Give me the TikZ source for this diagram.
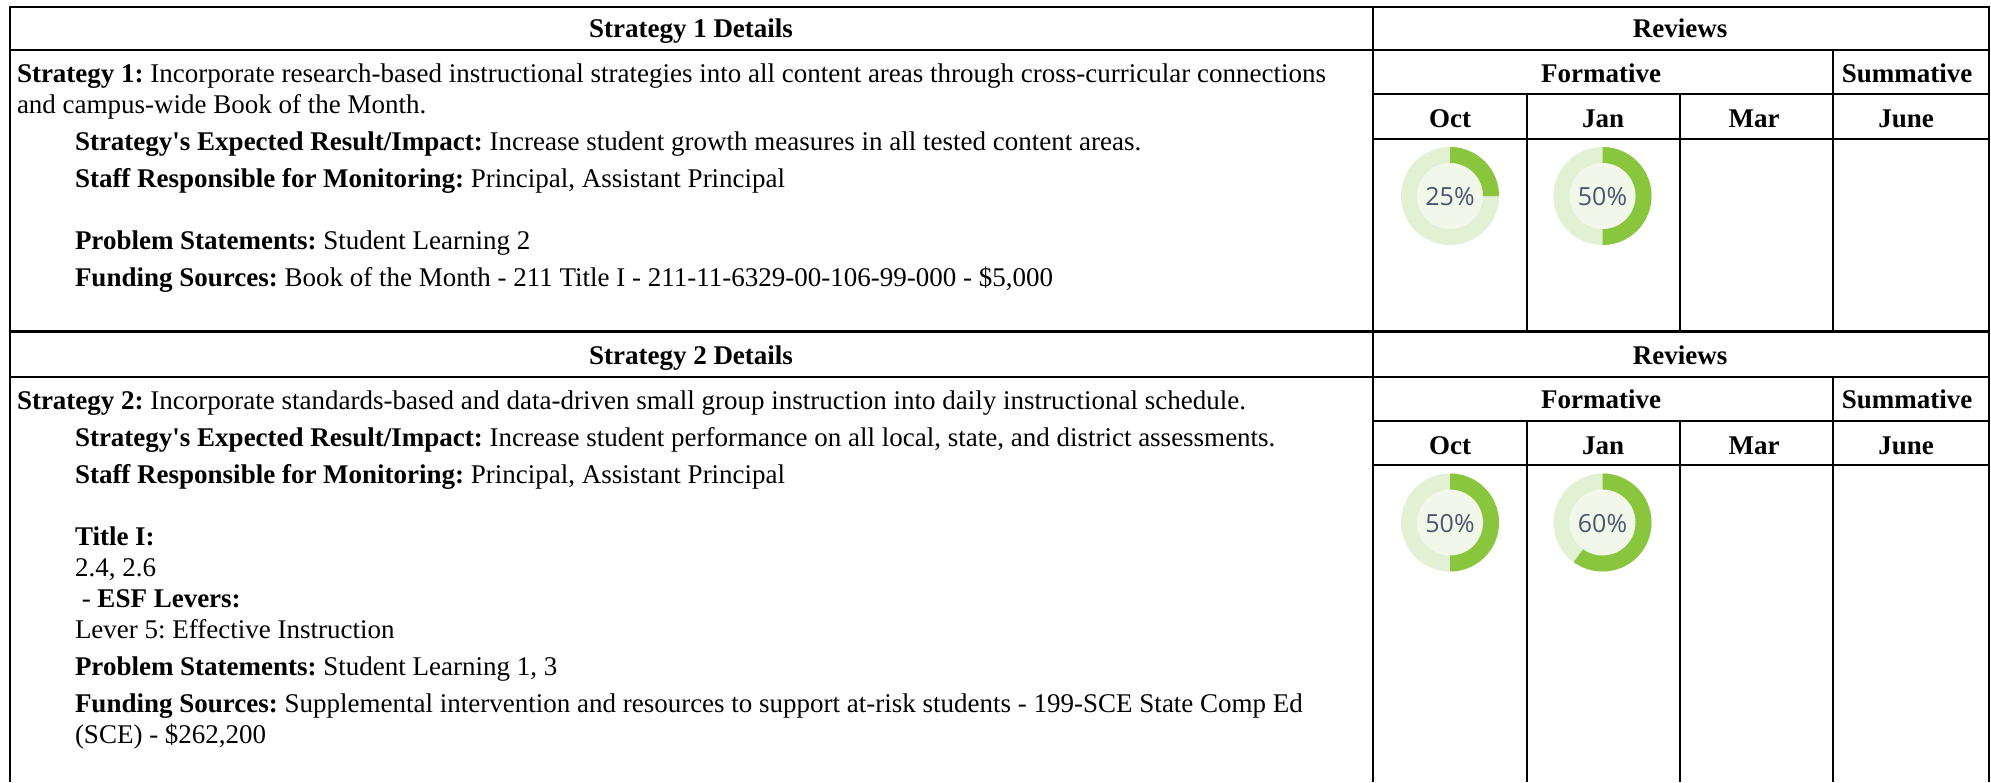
\documentclass[tikz,border=0pt]{standalone}
\usepackage{fontspec}
\setmainfont{Liberation Serif}[Ligatures=TeXOff]
\newfontfamily\gaugefont{Open Sans}
\definecolor{gaugedark}{HTML}{8AC53E}
\definecolor{gaugelight}{HTML}{E2F0D4}
\definecolor{gaugeinner}{HTML}{F1F8EA}
\definecolor{gaugetext}{HTML}{4A5570}
\tikzset{
  x=1pt,y=-1pt,
  rule/.style={line width=2pt,black},
  thick rule/.style={line width=3.2pt,black},
  body/.style={anchor=base west,inner sep=0pt,outer sep=0pt,font=\fontsize{27}{30}\selectfont\frenchspacing},
  head/.style={anchor=base,inner sep=0pt,outer sep=0pt,font=\fontsize{27}{30}\selectfont\bfseries},
  pct/.style={inner sep=0pt,outer sep=0pt,font=\gaugefont\fontsize{25}{28}\selectfont,text=gaugetext},
}
\newcommand{\gauge}[4]{% name, cx, cy, percent
  \fill[gaugelight] (#2,#3) circle[radius=49];
  \fill[gaugedark] (#2,#3) -- ++(0,-49) arc[start angle=-90,delta angle=#4*3.6,radius=49] -- cycle;
  \fill[gaugeinner] (#2,#3) circle[radius=33];
  \node[pct] (#1) at (#2,#3+1) {#4\%};
}
\begin{document}
\begin{tikzpicture}
\useasboundingbox (0,0) rectangle (1991,782);
\fill[white] (0,0) rectangle (1991,782);
% horizontal rules
\draw[rule] (9.5,7) -- (1989,7);
\draw[rule] (9.5,50) -- (1989,50);
\draw[rule] (1373,94) -- (1989,94);
\draw[rule] (1373,139) -- (1989,139);
\draw[thick rule] (9.5,331.5) -- (1989,331.5);
\draw[rule] (9.5,377) -- (1989,377);
\draw[rule] (1373,421) -- (1989,421);
\draw[rule] (1373,465) -- (1989,465);
% vertical rules
\draw[rule] (9.5,6) -- (9.5,782);
\draw[rule] (1373,6) -- (1373,782);
\draw[rule] (1989,6) -- (1989,782);
\draw[rule] (1833,50) -- (1833,331);
\draw[rule] (1527,94) -- (1527,331);
\draw[rule] (1680,94) -- (1680,331);
\draw[rule] (1833,377) -- (1833,782);
\draw[rule] (1527,421) -- (1527,782);
\draw[rule] (1680,421) -- (1680,782);
% table 1 headers
\node[head] (h1) at (691,37) {Strategy 1 Details};
\node[head] (r1) at (1680,37) {Reviews};
\node[head] (f1) at (1601,82) {Formative};
\node[head] (s1) at (1907,82) {Summative};
\node[head] (o1) at (1450,127) {Oct};
\node[head] (j1) at (1603,127) {Jan};
\node[head] (m1) at (1754,127) {Mar};
\node[head] (u1) at (1906,127) {June};
% table 2 headers
\node[head] (h2) at (691,364) {Strategy 2 Details};
\node[head] (r2) at (1680,364) {Reviews};
\node[head] (f2) at (1601,408) {Formative};
\node[head] (s2) at (1907,408) {Summative};
\node[head] (o2) at (1450,454) {Oct};
\node[head] (j2) at (1603,454) {Jan};
\node[head] (m2) at (1754,454) {Mar};
\node[head] (u2) at (1906,454) {June};
% table 1 body
\node[body] (a1) at (17,82) {\textbf{Strategy 1:} Incorporate research-based instructional strategies into all content areas through cross-curricular connections};
\node[body] (a2) at (17,113) {and campus-wide Book of the Month.};
\node[body] (a3) at (75,150) {\textbf{Strategy's Expected Result/Impact:} Increase student growth measures in all tested content areas.};
\node[body] (a4) at (75,187) {\textbf{Staff Responsible for Monitoring:} Principal, Assistant Principal};
\node[body] (a5) at (75,249) {\textbf{Problem Statements:} Student Learning 2};
\node[body] (a6) at (75,286) {\textbf{Funding Sources:} Book of the Month - 211 Title I - 211-11-6329-00-106-99-000 - \$5,000};
% table 2 body
\node[body] (b1) at (17,409) {\textbf{Strategy 2:} Incorporate standards-based and data-driven small group instruction into daily instructional schedule.};
\node[body] (b2) at (75,446) {\textbf{Strategy's Expected Result/Impact:} Increase student performance on all local, state, and district assessments.};
\node[body] (b3) at (75,483) {\textbf{Staff Responsible for Monitoring:} Principal, Assistant Principal};
\node[body] (b4) at (75,545) {\textbf{Title I:}};
\node[body] (b5) at (75,576) {2.4, 2.6};
\node[body] (b6) at (75,607) {\ - \textbf{ESF Levers:}};
\node[body] (b7) at (75,638) {Lever 5: Effective Instruction};
\node[body] (b8) at (75,675) {\textbf{Problem Statements:} Student Learning 1, 3};
\node[body] (b9) at (75,712) {\textbf{Funding Sources:} Supplemental intervention and resources to support at-risk students - 199-SCE State Comp Ed};
\node[body] (b10) at (75,743) {(SCE) - \$262,200};
% gauges
\gauge{g1}{1450}{196}{25}
\gauge{g2}{1602.5}{196}{50}
\gauge{g3}{1450}{522.5}{50}
\gauge{g4}{1602.5}{522.5}{60}
\end{tikzpicture}
\end{document}
